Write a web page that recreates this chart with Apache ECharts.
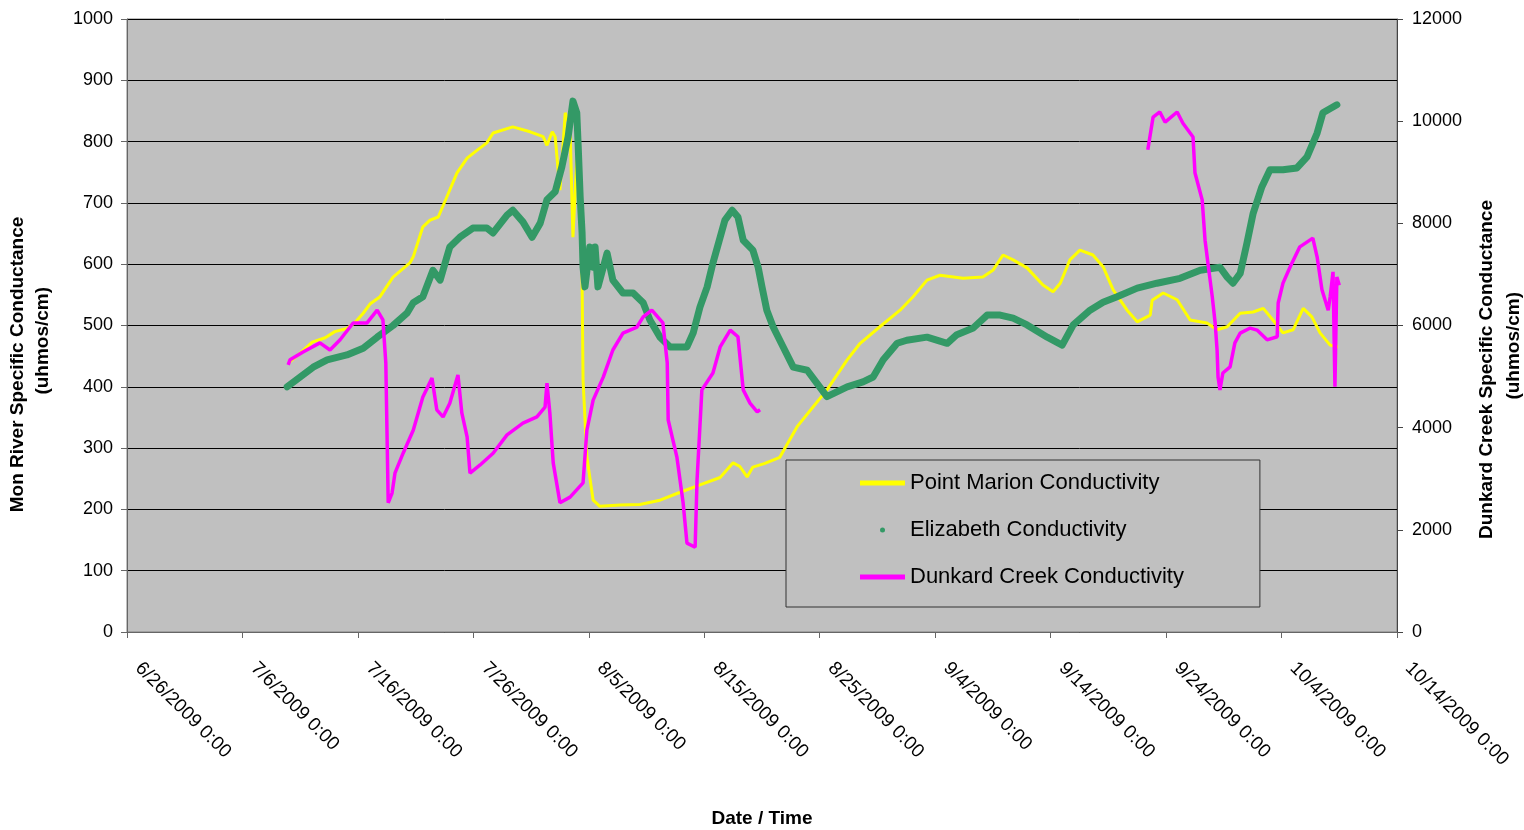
<!DOCTYPE html>
<html>
<head>
<meta charset="utf-8">
<title>Conductivity</title>
<script src="https://cdn.jsdelivr.net/npm/echarts@6/dist/echarts.min.js"></script>
<style>
  html, body { margin: 0; padding: 0; background: #fff; }
  #chart { width: 1524px; height: 830px; }
</style>
</head>
<body>
<div id="chart"></div>
<script>
// times are 'MM-DD HH' in 2009
const pointMarionTimes = ['07-10 01','07-11 00','07-12 01','07-13 04','07-14 00','07-15 01','07-15 18','07-16 11','07-17 01','07-17 22',
  '07-19 01','07-20 12','07-20 19','07-21 15','07-22 06','07-22 23','07-23 17','07-24 14','07-25 11','07-26 08',
  '07-27 04','07-27 17','07-29 10','07-30 22','08-01 01','08-01 09','08-01 20','08-02 02','08-02 12','08-02 23',
  '08-03 09','08-03 15','08-03 23','08-04 06','08-04 10','08-04 12','08-04 20','08-05 09','08-05 23','08-07 17',
  '08-09 10','08-11 04','08-12 22','08-14 15','08-16 09','08-17 12','08-18 02','08-18 17','08-19 05','08-20 06',
  '08-21 13','08-23 01','08-24 10','08-25 15','08-27 09','08-28 12','08-30 05','08-31 23','09-02 02','09-03 07',
  '09-04 10','09-06 10','09-08 03','09-09 00','09-09 21','09-10 18','09-11 23','09-13 08','09-14 05','09-14 20',
  '09-15 16','09-16 13','09-17 16','09-18 13','09-19 10','09-20 15','09-21 12','09-22 15','09-22 19','09-23 18',
  '09-24 23','09-26 02','09-27 13','09-28 10','09-29 07','09-30 10','10-01 13','10-02 10','10-03 06','10-04 03',
  '10-05 00','10-05 21','10-06 15','10-07 08','10-08 05','10-08 21'];
const pointMarionValues = [440,455,473,480,490,495,505,520,535,547,
  579,602,612,661,672,677,710,749,773,786,
  798,814,824,816,808,794,816,808,721,847,
  824,644,770,754,574,411,285,215,205,207,
  208,215,228,240,252,276,270,253,269,275,
  285,335,367,395,444,471,498,525,547,574,
  582,577,579,590,615,607,594,566,555,569,
  607,623,615,596,558,525,506,517,541,553,
  542,509,504,493,498,520,522,528,509,488,
  493,528,514,488,468,465];

const elizabethTimes = ['07-09 21','07-11 00','07-12 03','07-13 08','07-15 01','07-16 11','07-17 16','07-19 01','07-20 06','07-20 19',
  '07-21 15','07-22 12','07-23 03','07-23 17','07-23 23','07-24 20','07-25 23','07-27 04','07-27 17','07-28 22',
  '07-29 10','07-30 07','07-31 02','07-31 19','08-01 09','08-02 02','08-02 16','08-03 05','08-03 15','08-03 23',
  '08-04 02','08-04 06','08-04 10','08-04 12','08-04 16','08-05 02','08-05 09','08-05 13','08-05 19','08-06 14',
  '08-07 02','08-07 23','08-08 20','08-09 17','08-10 07','08-11 04','08-12 01','08-13 12','08-14 01','08-14 15',
  '08-15 06','08-15 18','08-16 09','08-16 19','08-17 10','08-17 22','08-18 09','08-19 05','08-19 16','08-20 00',
  '08-20 10','08-20 23','08-21 20','08-22 17','08-23 22','08-24 18','08-25 15','08-27 09','08-28 18','08-29 15',
  '08-30 12','08-31 17','09-01 13','09-03 07','09-05 01','09-05 21','09-07 07','09-08 12','09-09 15','09-10 18',
  '09-11 23','09-13 17','09-15 00','09-15 23','09-17 10','09-18 13','09-19 18','09-21 12','09-23 05','09-25 05',
  '09-26 23','09-28 16','09-29 07','09-29 19','09-30 10','10-01 00','10-01 13','10-02 07','10-03 00','10-04 03',
  '10-05 08','10-06 05','10-07 02','10-07 14','10-08 19'];
const elizabethValues = [400,416,432,444,452,463,481,500,520,537,
  547,590,574,612,628,644,659,659,651,680,
  688,669,644,667,705,718,759,808,866,847,
  791,710,651,595,563,628,595,628,563,618,
  574,553,553,537,509,481,465,465,488,530,
  563,602,644,672,688,677,639,623,595,563,
  525,498,465,432,427,406,384,400,408,416,
  444,471,476,481,471,485,496,517,517,512,
  501,481,468,501,525,538,547,561,569,577,
  590,595,579,569,585,634,683,726,754,754,
  757,775,814,847,860];

// null marks the gap in the Dunkard Creek record
const dunkardTimes = ['07-09 23','07-10 03','07-11 06','07-12 17','07-13 14','07-14 11','07-15 14','07-16 19','07-17 16','07-18 04',
  '07-18 10','07-18 13','07-18 15','07-18 23','07-19 05','07-19 22','07-20 19','07-21 15','07-22 10','07-22 20',
  '07-23 09','07-23 23','07-24 16','07-25 00','07-25 11','07-25 17','07-26 14','07-27 17','07-28 22','07-30 07',
  '07-31 12','08-01 05','08-01 09','08-01 15','08-01 22','08-02 12','08-03 09','08-04 12','08-04 20','08-05 09',
  '08-06 06','08-07 02','08-07 23','08-09 04','08-09 17','08-10 11','08-11 10','08-11 19','08-11 21','08-12 15',
  '08-13 04','08-13 12','08-14 05','08-14 09','08-14 19','08-15 18','08-16 09','08-17 06','08-17 22','08-18 09',
  '08-18 23','08-19 14','08-19 20','09-01 00','09-22 10','09-22 21','09-23 11','09-23 22','09-24 23','09-25 11',
  '09-26 08','09-26 12','09-27 03','09-27 09','09-27 15','09-28 00','09-28 06','09-28 10','09-28 12','09-28 16',
  '09-28 22','09-29 13','09-29 23','09-30 10','10-01 07','10-01 21','10-02 18','10-03 15','10-03 17','10-04 03',
  '10-04 18','10-05 14','10-06 17','10-07 02','10-07 12','10-08 01','10-08 05','10-08 11','10-08 15','10-08 19',
  '10-09 00'];
const dunkardValues = [5230,5330,5480,5660,5520,5720,6050,6050,6300,6110,
  5270,3620,2530,2720,3110,3500,3950,4600,4970,4350,
  4210,4480,5030,4290,3820,3110,3270,3500,3860,4090,
  4210,4400,4870,4290,3310,2530,2640,2920,3950,4540,
  4990,5520,5850,5970,6170,6300,6050,5270,4150,3430,
  2530,1740,1660,2980,4740,5070,5580,5910,5780,4740,
  4480,4310,4350,null,9440,10080,10180,9980,10180,9960,
  9690,8990,8460,7670,7220,6560,6050,5520,4990,4740,
  5070,5190,5660,5850,5950,5910,5720,5780,6440,6830,
  7150,7540,7710,7340,6700,6300,6560,7050,4800,6950,
  6790];

const axisStart = '06-26 00';
const axisEnd = '10-14 00';
const tickDays = 10;

const font = "'Liberation Sans', Arial, sans-serif";
const toTime = s => new Date('2009-' + s.replace(' ', 'T') + ':00').getTime();
const pairs = (times, values) => times.map((t, i) => [toTime(t), values[i]]);

const chart = echarts.init(document.getElementById('chart'));

chart.setOption({
  animation: false,
  backgroundColor: '#fff',
  textStyle: { fontFamily: font },
  grid: {
    left: 127, right: 127, top: 19, bottom: 198,
    show: true, backgroundColor: '#c0c0c0', borderColor: '#808080', borderWidth: 1,
    outerBoundsMode: 'none'
  },
  legend: {
    left: 786, top: 460,
    orient: 'vertical',
    itemGap: 25, itemWidth: 45, itemHeight: 5,
    padding: [12, 76, 19, 74],
    backgroundColor: '#c0c0c0', borderColor: '#333', borderWidth: 1,
    textStyle: { fontSize: 22, color: '#000', fontFamily: font },
    data: [
      { name: 'Point Marion Conductivity', icon: 'rect' },
      { name: 'Elizabeth Conductivity', icon: 'circle' },
      { name: 'Dunkard Creek Conductivity', icon: 'rect' }
    ]
  },
  xAxis: {
    type: 'value',
    min: toTime(axisStart), max: toTime(axisEnd),
    interval: tickDays * 86400000,
    name: 'Date / Time', nameLocation: 'middle', nameGap: 177,
    nameTextStyle: { fontSize: 19, fontWeight: 'bold', color: '#000' },
    axisLine: { lineStyle: { color: '#666' } },
    axisTick: { length: 6, lineStyle: { color: '#666' } },
    splitLine: { show: false },
    axisLabel: {
      rotate: -45, fontSize: 19, color: '#000', margin: 22, padding: [0, 0, 0, 16],
      formatter: v => {
        const d = new Date(v);
        return (d.getMonth() + 1) + '/' + d.getDate() + '/' + d.getFullYear() + ' ' + d.getHours() + ':00';
      }
    }
  },
  yAxis: [
    {
      type: 'value', min: 0, max: 1000, interval: 100, position: 'left',
      name: 'Mon River Specific Conductance\n         (uhmos/cm)',
      nameLocation: 'middle', nameRotate: 90, nameGap: 72,
      nameTextStyle: { fontSize: 19, fontWeight: 'bold', color: '#000', lineHeight: 25, padding: [0, 78, 0, 0] },
      axisLine: { show: true, lineStyle: { color: '#666' } },
      axisTick: { show: true, length: 6, lineStyle: { color: '#666' } },
      axisLabel: { fontSize: 18, color: '#000', margin: 14, formatter: v => String(v) },
      splitLine: { show: true, lineStyle: { color: '#000', width: 1 } }
    },
    {
      type: 'value', min: 0, max: 12000, interval: 2000, position: 'right',
      name: 'Dunkard Creek Specific Conductance\n         (uhmos/cm)',
      nameLocation: 'middle', nameRotate: 90, nameGap: 73,
      nameTextStyle: { fontSize: 19, fontWeight: 'bold', color: '#000', lineHeight: 27, padding: [0, 88, 0, 0] },
      axisLine: { show: true, lineStyle: { color: '#444' } },
      axisTick: { show: true, length: 6, lineStyle: { color: '#444' } },
      axisLabel: { fontSize: 18, color: '#000', margin: 15, formatter: v => String(v) },
      splitLine: { show: false }
    }
  ],
  series: [
    {
      name: 'Point Marion Conductivity', type: 'line', yAxisIndex: 0,
      showSymbol: false, color: '#ffff00',
      lineStyle: { width: 3, color: '#ffff00' },
      data: pairs(pointMarionTimes, pointMarionValues)
    },
    {
      name: 'Elizabeth Conductivity', type: 'line', yAxisIndex: 0,
      showSymbol: false, color: '#339966',
      lineStyle: { width: 7, color: '#339966', cap: 'round', join: 'round' },
      data: pairs(elizabethTimes, elizabethValues)
    },
    {
      name: 'Dunkard Creek Conductivity', type: 'line', yAxisIndex: 1,
      showSymbol: false, connectNulls: false, color: '#ff00ff',
      lineStyle: { width: 3.5, color: '#ff00ff' },
      data: pairs(dunkardTimes, dunkardValues)
    }
  ]
});
</script>
</body>
</html>
